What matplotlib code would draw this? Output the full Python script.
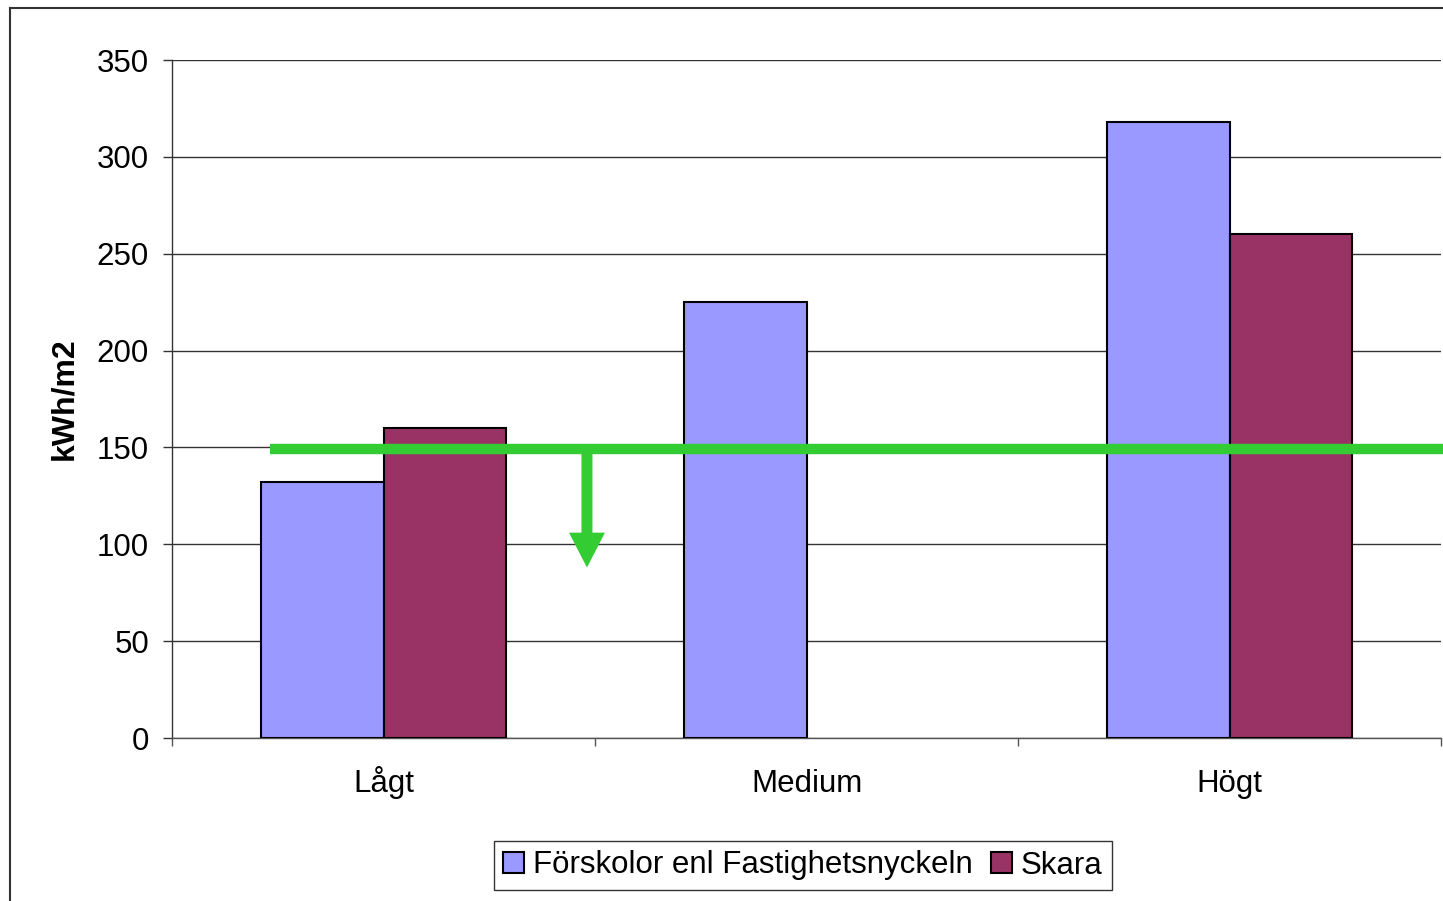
import numpy as np
import matplotlib.pyplot as plt
from matplotlib.lines import Line2D

plt.rcParams["font.family"] = ["Liberation Sans", "DejaVu Sans"]

# 数据
categories = ["Lågt", "Medium", "Högt"]
forskolor = [132, 225, 318]
skara = [160, np.nan, 260]
series_names = ["Förskolor enl Fastighetsnyckeln", "Skara"]
target = 149
arrow_end = 88
y_ticks = [0, 50, 100, 150, 200, 250, 300, 350]

fig = plt.figure(figsize=(14.43, 9.01), dpi=100)
ax = fig.add_axes([172 / 1443, 1 - 738 / 901, 1269 / 1443, 678 / 901])

x = np.arange(len(categories))
w = 0.2885
ax.bar(x - w / 2, forskolor, w, color="#9999FF", edgecolor="black", linewidth=1.5,
       label=series_names[0], zorder=3)
ax.bar(x + w / 2, skara, w, color="#993366", edgecolor="black", linewidth=1.5,
       label=series_names[1], zorder=3)

# 目标线和箭头
ax.plot([-0.268, 2.51], [target, target], color="#33CC33", lw=7.5,
        solid_capstyle="butt", clip_on=False, zorder=4)
ax.arrow(0.481, target, 0, arrow_end - target, width=0.026, head_width=0.085,
         head_length=18, length_includes_head=True, color="#33CC33", lw=0, zorder=4)

ax.set_xlim(-0.5, 2.5)
ax.set_ylim(0, 350)
ax.set_yticks(y_ticks)
ax.set_xticks(x)
ax.set_xticklabels(categories)
ax.set_xticks([-0.5, 0.5, 1.5, 2.5], minor=True)
ax.tick_params(axis="x", which="major", length=0, pad=39, labelsize=22.5)
ax.tick_params(axis="x", which="minor", length=6, width=1, color="#555555", direction="out")
ax.tick_params(axis="y", length=6.5, width=1, color="#333333", pad=10, labelsize=22.5)
for lab in ax.get_xticklabels():
    lab.set_va("baseline")

ax.grid(axis="y", color="#333333", lw=1, zorder=1)
for s in ["top", "right"]:
    ax.spines[s].set_visible(False)
ax.spines["left"].set_color("#333333")
ax.spines["bottom"].set_color("#555555")
ax.spines["left"].set_linewidth(1)
ax.spines["bottom"].set_linewidth(1)

ax.set_ylabel("kWh/m2", fontsize=23, fontweight="bold", va="center")
ax.yaxis.set_label_coords(-0.085, 0.5)

leg = fig.legend(loc="center", bbox_to_anchor=(803 / 1443, 1 - 865.5 / 901), ncol=2,
                 fontsize=22.5, frameon=True, fancybox=False, handlelength=0.65,
                 handleheight=0.65, handletextpad=0.3, columnspacing=0.6,
                 borderpad=0.3, borderaxespad=0)
leg.get_frame().set_edgecolor("black")
leg.get_frame().set_linewidth(1)

# 图框
fig.add_artist(Line2D([10 / 1443, 10 / 1443], [0, 1 - 8 / 901], color="#333333", lw=1.5))
fig.add_artist(Line2D([10 / 1443, 1], [1 - 8 / 901, 1 - 8 / 901], color="#333333", lw=1.5))

fig.savefig("out.png", dpi=100)
